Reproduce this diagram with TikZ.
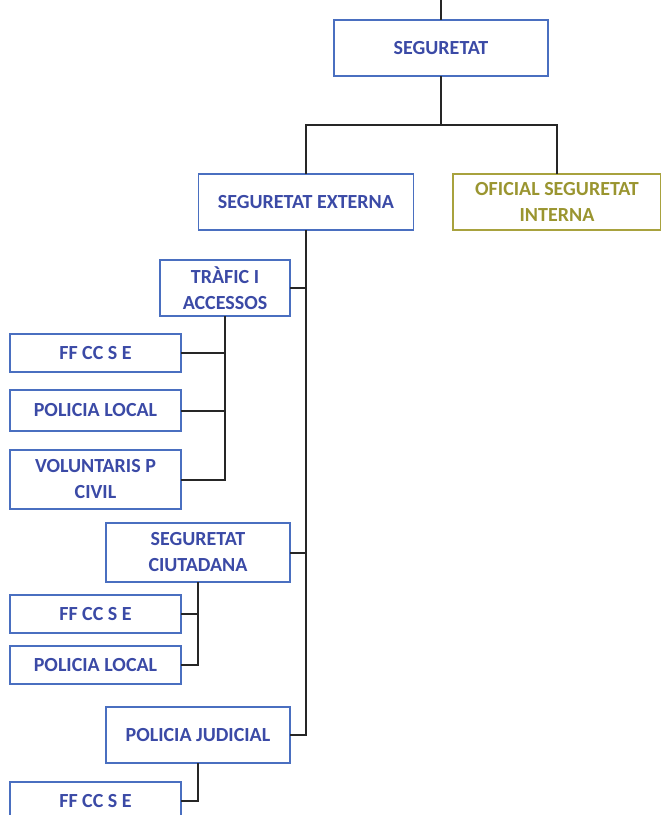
\documentclass[tikz,border=0pt]{standalone}
\usepackage{fontspec}
\setmainfont{Carlito}
\definecolor{unitblue}{HTML}{4A6FC0}
\definecolor{unittext}{HTML}{3B4AA6}
\definecolor{olivebd}{HTML}{A8A23E}
\definecolor{olivetx}{HTML}{9A9530}
\tikzset{
  unitbox/.style={draw=unitblue, line width=1.8pt, outer sep=0, inner sep=2pt, align=center,
    text=unittext, font=\fontsize{20}{26}\selectfont\bfseries},
  olivebox/.style={unitbox, draw=olivebd, text=olivetx},
  link/.style={draw=black!85, line width=2pt}
}
\begin{document}
\begin{tikzpicture}[x=1pt, y=-1pt]
        \useasboundingbox (0,0) rectangle (661,815);
        \clip (0,0) rectangle (661,815);

        \node [unitbox, minimum width=214pt, minimum height=56pt] (seg) at (441,48) {SEGURETAT};
        \coordinate (seg-top) at (441,0);

        \node [unitbox, minimum width=215pt, minimum height=56pt] (seg-ext) at (306,202) {SEGURETAT EXTERNA};
        \node [olivebox, minimum width=208pt, minimum height=56pt] (of-int) at (557,202) {OFICIAL SEGURETAT\\INTERNA};

        \node [unitbox, minimum width=130pt, minimum height=56pt] (traf) at (225,288) {TRÀFIC I\\ACCESSOS};
        \node [unitbox, minimum width=171pt, minimum height=38pt] (traf-ff) at (95.5,353) {FF CC S E};
        \node [unitbox, minimum width=171pt, minimum height=41pt] (traf-pl) at (95.5,410.5) {POLICIA LOCAL};
        \node [unitbox, minimum width=171pt, minimum height=59pt] (traf-vol) at (95.5,479.5) {VOLUNTARIS P\\CIVIL};

        \node [unitbox, minimum width=184pt, minimum height=59pt] (ciut) at (198,552.5) {SEGURETAT\\CIUTADANA};
        \node [unitbox, minimum width=171pt, minimum height=38pt] (ciut-ff) at (95.5,614) {FF CC S E};
        \node [unitbox, minimum width=171pt, minimum height=38pt] (ciut-pl) at (95.5,665) {POLICIA LOCAL};

        \node [unitbox, minimum width=184pt, minimum height=56pt] (jud) at (198,735) {POLICIA JUDICIAL};
        \node [unitbox, minimum width=171pt, minimum height=38pt] (jud-ff) at (95.5,801) {FF CC S E};

        % top level
        \draw [link] (seg-top) -- (seg.north);
        \draw [link] (seg.south) -- ++(0,49) coordinate (seg-bus);
        \draw [link] (seg-ext.north) |- (seg-bus) -| (of-int.north);

        % external security spine
        \draw [link] (seg-ext.south) |- (jud.east);
        \draw [link] (traf.east) -- (traf.east -| seg-ext.south);
        \draw [link] (ciut.east) -- (ciut.east -| seg-ext.south);

        % sub units
        \draw [link] (traf.south) |- (traf-vol.east);
        \draw [link] (traf-ff.east) -- (traf-ff.east -| traf.south);
        \draw [link] (traf-pl.east) -- (traf-pl.east -| traf.south);

        \draw [link] (ciut.south) |- (ciut-pl.east);
        \draw [link] (ciut-ff.east) -- (ciut-ff.east -| ciut.south);

        \draw [link] (jud.south) |- (jud-ff.east);
\end{tikzpicture}
\end{document}
